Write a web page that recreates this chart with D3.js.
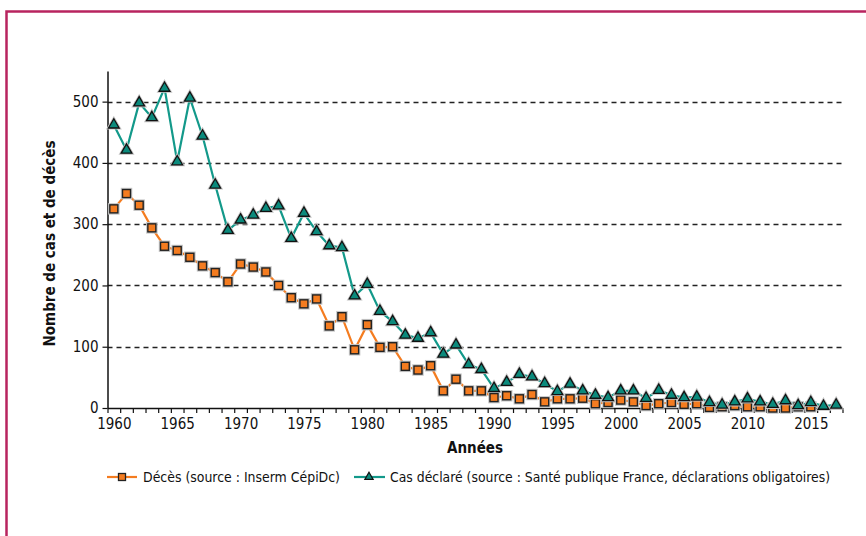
<!DOCTYPE html>
<html>
<head>
<meta charset="utf-8">
<script src="https://cdn.jsdelivr.net/npm/d3@7"></script>
<style>
  html, body { margin: 0; padding: 0; background: #fff; }
  svg { display: block; }
  text { font-family: "DejaVu Sans Condensed", "Liberation Sans Narrow", "Roboto", sans-serif; font-stretch: condensed; fill: #111; }
</style>
</head>
<body>
<svg id="chart" width="866" height="536"></svg>
<script>
// ---- Data ----
const years = d3.range(1960, 2018);                 // 1960 .. 2017
const deathYears = d3.range(1960, 2016);            // 1960 .. 2015
const deaths = [
  325, 350, 331, 294, 264, 257, 246, 232, 221, 206,
  235, 230, 222, 200, 180, 170, 178, 134, 149, 95,
  136, 99, 100, 68, 62, 69, 28, 47, 28, 28,
  17, 20, 15, 22, 10, 15, 15, 16, 7, 9,
  13, 10, 4, 7, 9, 6, 7, 1, 2, 4,
  2, 2, 0, 0, 2, 2
];
const cases = [
  462, 421, 498, 474, 522, 402, 506, 444, 364, 290,
  307, 315, 326, 330, 277, 318, 288, 265, 262, 183,
  202, 158, 141, 119, 114, 123, 88, 103, 71, 63,
  32, 42, 55, 51, 40, 27, 39, 28, 21, 17,
  28, 28, 16, 29, 21, 17, 18, 9, 5, 10,
  15, 10, 6, 12, 4, 9, 3, 5
];
const yTicks = [0, 100, 200, 300, 400, 500];
const xLabelYears = [1960, 1965, 1970, 1975, 1980, 1985, 1990, 1995, 2000, 2005, 2010, 2015];
const seriesNames = ["Décès (source : Inserm CépiDc)", "Cas déclaré (source : Santé publique France, déclarations obligatoires)"];
const yTitle = "Nombre de cas et de décès";
const xTitle = "Années";

// ---- Styles ----
const ORANGE = "#f47c20";
const TEAL = "#13998a";
const TEAL_FILL = "#0b8a7c";
const FRAME = "#b8245f";

const svg = d3.select("#chart");

// frame
svg.append("path")
  .attr("d", "M6.5,540 L6.5,11.5 L870,11.5")
  .attr("fill", "none").attr("stroke", FRAME).attr("stroke-width", 2.5);

// scales
const x = d3.scaleLinear().domain([1959.5, 2017.5]).range([107.5, 842.5]);
const y = d3.scaleLinear().domain([0, 550]).range([408, 71]);

// gridlines
svg.append("g").selectAll("line")
  .data(yTicks.filter(d => d > 0))
  .join("line")
  .attr("x1", x(1959.5)).attr("x2", x(2017.5))
  .attr("y1", d => Math.round(y(d)) + 0.5).attr("y2", d => Math.round(y(d)) + 0.5)
  .attr("stroke", "#222").attr("stroke-width", 1.4)
  .attr("stroke-dasharray", "5,4");

// y axis
const yAxis = svg.append("g")
  .attr("transform", `translate(${x(1959.5)},0)`)
  .call(d3.axisLeft(y).tickValues(yTicks).tickSize(5).tickPadding(4).tickSizeOuter(0));
yAxis.select(".domain").attr("stroke", "#111").attr("stroke-width", 1.5);
yAxis.selectAll(".tick line").attr("stroke", "#111").attr("stroke-width", 1.2);
yAxis.selectAll(".tick text").style("font-size", "15px").attr("fill", "#111");

// x axis: boundary ticks
const xAxisTicks = svg.append("g")
  .attr("transform", `translate(0,${y(0)})`)
  .call(d3.axisBottom(x).tickValues(d3.range(1959.5, 2018, 1)).tickSize(5).tickFormat("").tickSizeOuter(0));
xAxisTicks.select(".domain").attr("stroke", "#111").attr("stroke-width", 1.5);
xAxisTicks.selectAll(".tick line").attr("stroke", "#111").attr("stroke-width", 1.2);

// x axis: labels at category centres
const xAxisLabels = svg.append("g")
  .attr("transform", `translate(0,${y(0)})`)
  .call(d3.axisBottom(x).tickValues(xLabelYears).tickSize(0).tickPadding(10).tickFormat(d3.format("d")));
xAxisLabels.select(".domain").remove();
xAxisLabels.selectAll(".tick text").style("font-size", "15px").attr("fill", "#111");

// axis titles
svg.append("text")
  .attr("transform", `translate(55,${(y(0) + 71) / 2 + 4}) rotate(-90)`)
  .attr("text-anchor", "middle")
  .style("font-size", "15px").style("font-weight", "bold")
  .text(yTitle);
svg.append("text")
  .attr("x", (x(1959.5) + x(2017.5)) / 2).attr("y", 453)
  .attr("text-anchor", "middle")
  .style("font-size", "15px").style("font-weight", "bold")
  .text(xTitle);

// lines
const deathPts = deathYears.map((yr, i) => [yr, deaths[i]]);
const casePts = years.map((yr, i) => [yr, cases[i]]);
const line = d3.line().x(d => x(d[0])).y(d => y(d[1]));

svg.append("path").datum(deathPts)
  .attr("d", line).attr("fill", "none").attr("stroke", ORANGE).attr("stroke-width", 2.2);
svg.append("path").datum(casePts)
  .attr("d", line).attr("fill", "none").attr("stroke", TEAL).attr("stroke-width", 2.2);

// markers
const sq = 8;
function drawSquares(g, pts) {
  g.selectAll("rect.halo").data(pts).join("rect").attr("class", "halo")
    .attr("x", d => x(d[0]) - sq / 2).attr("y", d => y(d[1]) - sq / 2)
    .attr("width", sq).attr("height", sq)
    .attr("fill", "none").attr("stroke", "#c4c4c4").attr("stroke-width", 3.5);
  g.selectAll("rect.mk").data(pts).join("rect").attr("class", "mk")
    .attr("x", d => x(d[0]) - sq / 2).attr("y", d => y(d[1]) - sq / 2)
    .attr("width", sq).attr("height", sq)
    .attr("fill", ORANGE).attr("stroke", "#222").attr("stroke-width", 1.4);
}
const tri = d3.symbol().type(d3.symbolTriangle).size(50);
function drawTriangles(g, pts) {
  g.selectAll("path.halo").data(pts).join("path").attr("class", "halo")
    .attr("d", tri).attr("transform", d => `translate(${x(d[0])},${y(d[1])})`)
    .attr("fill", "none").attr("stroke", "#c4c4c4").attr("stroke-width", 3);
  g.selectAll("path.mk").data(pts).join("path").attr("class", "mk")
    .attr("d", tri).attr("transform", d => `translate(${x(d[0])},${y(d[1])})`)
    .attr("fill", TEAL_FILL).attr("stroke", "#111").attr("stroke-width", 1.3);
}
drawSquares(svg.append("g"), deathPts);
drawTriangles(svg.append("g"), casePts);

// legend
const legY = 477;
const leg1 = svg.append("g");
leg1.append("line").attr("x1", 107).attr("x2", 137).attr("y1", legY).attr("y2", legY)
  .attr("stroke", ORANGE).attr("stroke-width", 2.2);
leg1.append("rect").attr("x", 122 - 3.5).attr("y", legY - 3.5).attr("width", 7).attr("height", 7)
  .attr("fill", ORANGE).attr("stroke", "#222").attr("stroke-width", 1.3);
leg1.append("text").attr("x", 143).attr("y", legY + 5)
  .style("font-size", "14px")
  .attr("textLength", 197).attr("lengthAdjust", "spacingAndGlyphs")
  .text(seriesNames[0]);

const leg2 = svg.append("g");
leg2.append("line").attr("x1", 354).attr("x2", 385).attr("y1", legY).attr("y2", legY)
  .attr("stroke", TEAL).attr("stroke-width", 2.2);
leg2.append("path").attr("d", d3.symbol().type(d3.symbolTriangle).size(30))
  .attr("transform", `translate(369,${legY})`)
  .attr("fill", TEAL_FILL).attr("stroke", "#111").attr("stroke-width", 1.2);
leg2.append("text").attr("x", 390).attr("y", legY + 5)
  .style("font-size", "14px")
  .attr("textLength", 440).attr("lengthAdjust", "spacingAndGlyphs")
  .text(seriesNames[1]);
</script>
</body>
</html>
